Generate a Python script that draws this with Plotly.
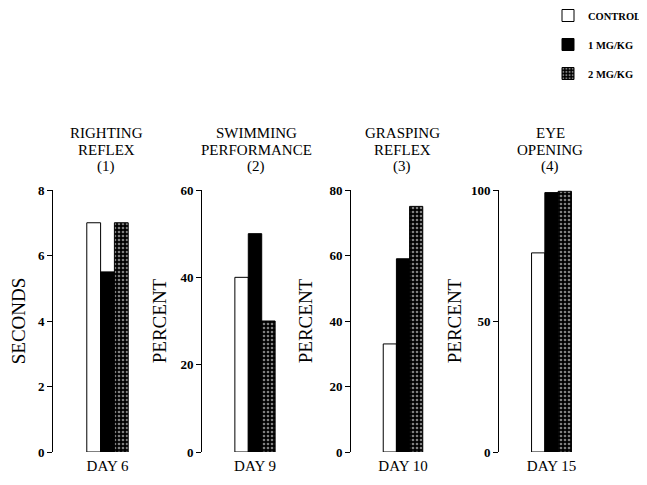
import plotly.graph_objects as go

# ---- data ----
days = ["DAY 6", "DAY 9", "DAY 10", "DAY 15"]
panel_titles = [["RIGHTING", "REFLEX", "(1)"], ["SWIMMING", "PERFORMANCE", "(2)"],
                ["GRASPING", "REFLEX", "(3)"], ["EYE", "OPENING", "(4)"]]
y_titles = ["SECONDS", "PERCENT", "PERCENT", "PERCENT"]
y_max = [8, 60, 80, 100]
y_ticks = [[0, 2, 4, 6, 8], [0, 20, 40, 60], [0, 20, 40, 60, 80], [0, 50, 100]]
series_names = ["CONTROL", "1 MG/KG", "2 MG/KG"]
control = [7, 40, 33, 76]
mg1 = [5.5, 50, 59, 99]
mg2 = [7, 30, 75, 99.5]

# the page body adds an 8px margin; lay out in figure pixels
OFF = 8
W, H = 647 - OFF, 485 - OFF
SERIF = "Liberation Serif, Times New Roman, serif"


def fx(px):
    return (px - OFF) / W


def fy(py):
    return 1 - (py - OFF) / H


# panel pixel extents on screen (axis line -> right edge)
px_domains = [(53, 162), (202, 308), (351, 455), (499, 604)]
title_cx = [106, 256, 402, 550]
title_line_y = [133, 150, 167]
standoffs = [10, 8, 11, 4]
y_dom = [fy(452), fy(190)]

fig = go.Figure()
series = [control, mg1, mg2]
styles = [
    dict(color="white", line=dict(color="black", width=1)),
    dict(color="black", line=dict(color="black", width=1)),
    dict(color="black", line=dict(color="black", width=1),
         pattern=dict(shape=".", fgcolor="white", bgcolor="black", size=4, solidity=0.35)),
]

for i, day in enumerate(days):
    ax = "" if i == 0 else str(i + 1)
    for name, vals, st in zip(series_names, series, styles):
        fig.add_trace(go.Bar(
            x=[day], y=[vals[i]], name=name, marker=st,
            xaxis="x" + ax, yaxis="y" + ax,
            legendgroup=name, showlegend=(i == 0),
        ))

layout = dict(
    width=W, height=H, margin=dict(l=0, r=0, t=0, b=0, autoexpand=False),
    paper_bgcolor="white", plot_bgcolor="white",
    barmode="group", bargap=0.62, bargroupgap=0,
    showlegend=True,
    legend=dict(x=fx(548), y=fy(1), xanchor="left", yanchor="top",
                font=dict(family=SERIF, size=10.5, color="black", weight="bold"),
                tracegroupgap=10, itemwidth=30, bgcolor="rgba(0,0,0,0)"),
    annotations=[],
)

for i in range(4):
    ax = "" if i == 0 else str(i + 1)
    x0, x1 = px_domains[i]
    layout["xaxis" + ax] = dict(
        domain=[fx(x0), fx(x1)], anchor="y" + ax, showline=False, showgrid=False,
        zeroline=False, ticks="", ticklabelstandoff=3,
        tickfont=dict(family=SERIF, size=15, color="black"),
        fixedrange=True,
    )
    layout["yaxis" + ax] = dict(
        domain=y_dom, anchor="x" + ax, range=[0, y_max[i]], tickvals=y_ticks[i],
        showline=True, linecolor="black", linewidth=1, ticks="outside", ticklen=5,
        tickcolor="black", showgrid=False, zeroline=False,
        tickfont=dict(family=SERIF, size=13, color="black", weight="bold"),
        title=dict(text=y_titles[i], font=dict(family=SERIF, size=19, color="black"),
                   standoff=standoffs[i]),
    )
    for line, ly in zip(panel_titles[i], title_line_y):
        layout["annotations"].append(dict(
            text=line, x=fx(title_cx[i]), y=fy(ly), xref="paper", yref="paper",
            xanchor="center", yanchor="middle", showarrow=False, align="center",
            font=dict(family=SERIF, size=15, color="black"),
        ))

fig.update_layout(**layout)
fig.write_html("out.html")
